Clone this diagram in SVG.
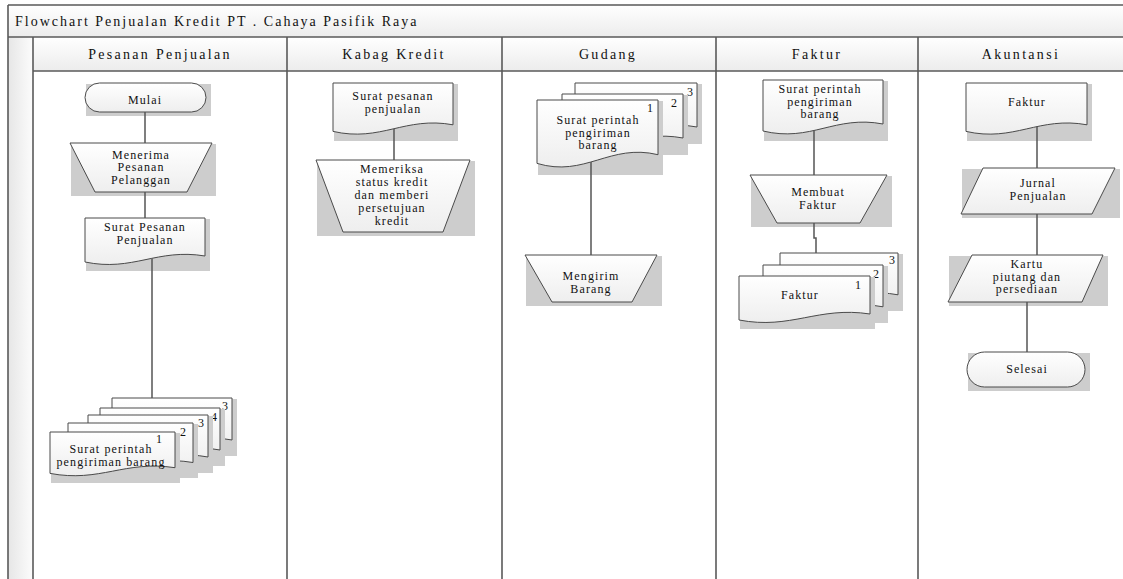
<svg xmlns="http://www.w3.org/2000/svg" width="1123" height="579" viewBox="0 0 1123 579">
<defs>
<linearGradient id="gv" x1="0" y1="0" x2="0" y2="1"><stop offset="0" stop-color="#ffffff"/><stop offset="1" stop-color="#eeeeee"/></linearGradient>
<linearGradient id="gbar" x1="0" y1="0" x2="0" y2="1"><stop offset="0" stop-color="#ffffff"/><stop offset="1" stop-color="#ececec"/></linearGradient>
<linearGradient id="ggut" x1="0" y1="0" x2="1" y2="0"><stop offset="0" stop-color="#e6e6e6"/><stop offset="1" stop-color="#fcfcfc"/></linearGradient>
</defs>
<style>
.sh{fill:#cdcdcd;stroke:none}
.s{fill:url(#gv);stroke:#4a4a4a;stroke-width:1}
.fr{fill:none;stroke:#5a5a5a;stroke-width:1.6}
.c{fill:none;stroke:#555555;stroke-width:1.5}
text{font-family:"Liberation Serif","Times New Roman",serif;fill:#111111}
.t{font-size:12px;letter-spacing:1.1px;text-anchor:middle}
.n{font-size:12px;text-anchor:middle}
.h{font-size:14px;letter-spacing:2.3px;text-anchor:middle}
.ti{font-size:14px;letter-spacing:2px}
</style>
<rect x="0" y="0" width="1123" height="579" fill="#ffffff"/>
<g id="frame">
<rect x="8" y="5" width="1116" height="32" fill="url(#gbar)"/>
<rect x="33" y="37" width="1091" height="34" fill="url(#gbar)"/>
<rect x="8" y="37" width="25" height="542" fill="url(#ggut)"/>
<path class="fr" d="M8,5 H1124 M8,37 H1124 M33,71 H1124 M8,5 V579 M33,37 V579 M287,37 V579 M502,37 V579 M716,37 V579 M918,37 V579"/>
<text class="ti" x="15" y="26">Flowchart Penjualan Kredit PT . Cahaya Pasifik Raya</text>
<text class="h" x="160" y="59">Pesanan Penjualan</text>
<text class="h" x="394" y="59">Kabag Kredit</text>
<text class="h" x="608" y="59">Gudang</text>
<text class="h" x="817" y="59">Faktur</text>
<text class="h" x="1021" y="59">Akuntansi</text>
</g>
<g id="mulai">
<rect class="sh" x="86" y="84" width="125" height="32"/>
<rect class="s" x="85" y="83" width="121" height="29" rx="14.5"/>
<text class="t" x="145" y="104">Mulai</text>
</g>
<g id="menerima">
<rect class="sh" x="71" y="144" width="145" height="52"/>
<polygon class="s" points="70,143 212,143 187,192 95,192"/>
<text class="t" x="141" y="158.5">Menerima</text>
<text class="t" x="141" y="171">Pesanan</text>
<text class="t" x="141" y="183.5">Pelanggan</text>
</g>
<g id="surat-pesanan-penjualan">
<rect class="sh" x="86" y="219" width="124" height="52"/>
<path class="s" d="M85,218 H205 V256 C157,248 133,272 85,262 Z"/>
<text class="t" x="145" y="231">Surat Pesanan</text>
<text class="t" x="145" y="243.5">Penjualan</text>
</g>
<g id="spp-stack-1">
<rect class="sh" x="113" y="399" width="124" height="57"/>
<path class="s" d="M112,398 H232 V440 C184,431 160,457 112,446 Z"/>
<text class="n" x="225" y="410">3</text>
<rect class="sh" x="101" y="409" width="124" height="57"/>
<path class="s" d="M100,408 H220 V450 C172,441 148,467 100,456 Z"/>
<text class="n" x="214" y="421">4</text>
<rect class="sh" x="89" y="416" width="124" height="57"/>
<path class="s" d="M88,415 H208 V457 C160,448 136,474 88,463 Z"/>
<text class="n" x="201" y="427">3</text>
<rect class="sh" x="69" y="424" width="129" height="54"/>
<path class="s" d="M68,423 H193 V462.5 C143,454 118,479 68,468.8 Z"/>
<text class="n" x="183" y="436">2</text>
<rect class="sh" x="51" y="433" width="129" height="50"/>
<path class="s" d="M50,432 H175 V467.7 C125,460 100,482.8 50,473.4 Z"/>
<text class="n" x="159" y="443">1</text>
<text class="t" x="111" y="453">Surat perintah</text>
<text class="t" x="111" y="466">pengiriman barang</text>
</g>
<g id="kabag-doc">
<rect class="sh" x="334" y="84" width="124" height="57"/>
<path class="s" d="M333,83 H453 V124.8 C405,116 381,142.4 333,131.4 Z"/>
<text class="t" x="393" y="100">Surat pesanan</text>
<text class="t" x="393" y="112.5">penjualan</text>
</g>
<g id="memeriksa">
<rect class="sh" x="317" y="161" width="158" height="75"/>
<polygon class="s" points="316,160 470,160 443,232 343,232"/>
<text class="t" x="392" y="173">Memeriksa</text>
<text class="t" x="392" y="186">status kredit</text>
<text class="t" x="392" y="199">dan memberi</text>
<text class="t" x="392" y="212">persetujuan</text>
<text class="t" x="392" y="225">kredit</text>
</g>
<g id="gudang-stack">
<rect class="sh" x="576" y="84" width="126" height="60"/>
<path class="s" d="M575,83 H697 V127 C648,118 624,145.6 575,134 Z"/>
<text class="n" x="690" y="96">3</text>
<rect class="sh" x="563" y="95" width="125" height="60"/>
<path class="s" d="M562,94 H683 V138 C635,129 610,156.6 562,145 Z"/>
<text class="n" x="674" y="107">2</text>
<rect class="sh" x="538" y="101" width="125" height="74"/>
<path class="s" d="M537,100 H658 V154.7 C610,143 585,177.8 537,163.4 Z"/>
<text class="n" x="650" y="112">1</text>
<text class="t" x="598" y="124">Surat perintah</text>
<text class="t" x="598" y="136.5">pengiriman</text>
<text class="t" x="598" y="149">barang</text>
</g>
<g id="mengirim">
<rect class="sh" x="526" y="256" width="136" height="50"/>
<polygon class="s" points="525,255 657,255 632,302 552,302"/>
<text class="t" x="591" y="280">Mengirim</text>
<text class="t" x="591" y="292.5">Barang</text>
</g>
<g id="faktur-doc-spb">
<rect class="sh" x="764" y="81" width="124" height="60"/>
<path class="s" d="M763,80 H883 V124 C835,114.8 811,142.6 763,131 Z"/>
<text class="t" x="820" y="93">Surat perintah</text>
<text class="t" x="820" y="105.5">pengiriman</text>
<text class="t" x="820" y="118">barang</text>
</g>
<g id="membuat-faktur">
<rect class="sh" x="751" y="176" width="141" height="51"/>
<polygon class="s" points="750,175 887,175 860,223 777,223"/>
<text class="t" x="818" y="196">Membuat</text>
<text class="t" x="818" y="208.5">Faktur</text>
</g>
<g id="faktur-stack">
<rect class="sh" x="781" y="254" width="122" height="57"/>
<path class="s" d="M780,253 H898 V294.8 C851,286 827,312.4 780,301.4 Z"/>
<text class="n" x="892" y="264">3</text>
<rect class="sh" x="764" y="266" width="124" height="57"/>
<path class="s" d="M763,265 H883 V306.8 C835,298 811,324.4 763,313.4 Z"/>
<text class="n" x="876" y="278">2</text>
<rect class="sh" x="740" y="277" width="135" height="52"/>
<path class="s" d="M739,276 H870 V314 C818,306 791,330 739,320 Z"/>
<text class="n" x="858" y="289">1</text>
<text class="t" x="800" y="299">Faktur</text>
</g>
<g id="akuntansi-faktur">
<rect class="sh" x="967" y="84" width="125" height="57"/>
<path class="s" d="M966,83 H1087 V124.8 C1039,116 1014,142.4 966,131.4 Z"/>
<text class="t" x="1027" y="106">Faktur</text>
</g>
<g id="jurnal">
<rect class="sh" x="962" y="169" width="158" height="49"/>
<polygon class="s" points="983,168 1115,168 1092,214 961,214"/>
<text class="t" x="1038" y="187">Jurnal</text>
<text class="t" x="1038" y="200">Penjualan</text>
</g>
<g id="kartu">
<rect class="sh" x="949" y="256" width="159" height="50"/>
<polygon class="s" points="972,255 1103,255 1082,302 948,302"/>
<text class="t" x="1027" y="268">Kartu</text>
<text class="t" x="1027" y="280.5">piutang dan</text>
<text class="t" x="1027" y="293">persediaan</text>
</g>
<g id="selesai">
<rect class="sh" x="968" y="353" width="122" height="38"/>
<rect class="s" x="967" y="352" width="118" height="35" rx="17.5"/>
<text class="t" x="1027" y="373">Selesai</text>
</g>
<g id="connectors">
<path class="c" d="M145,112 V143"/>
<path class="c" d="M145,192 V218"/>
<path class="c" d="M152,258.5 V398"/>
<path class="c" d="M394,129 V160"/>
<path class="c" d="M591,162 V255"/>
<path class="c" d="M814,130.5 V175"/>
<path class="c" d="M814,223 V238 H816 V253"/>
<path class="c" d="M1037,126.5 V168"/>
<path class="c" d="M1037,214 V255"/>
<path class="c" d="M1027,302 V352"/>
</g>
</svg>
